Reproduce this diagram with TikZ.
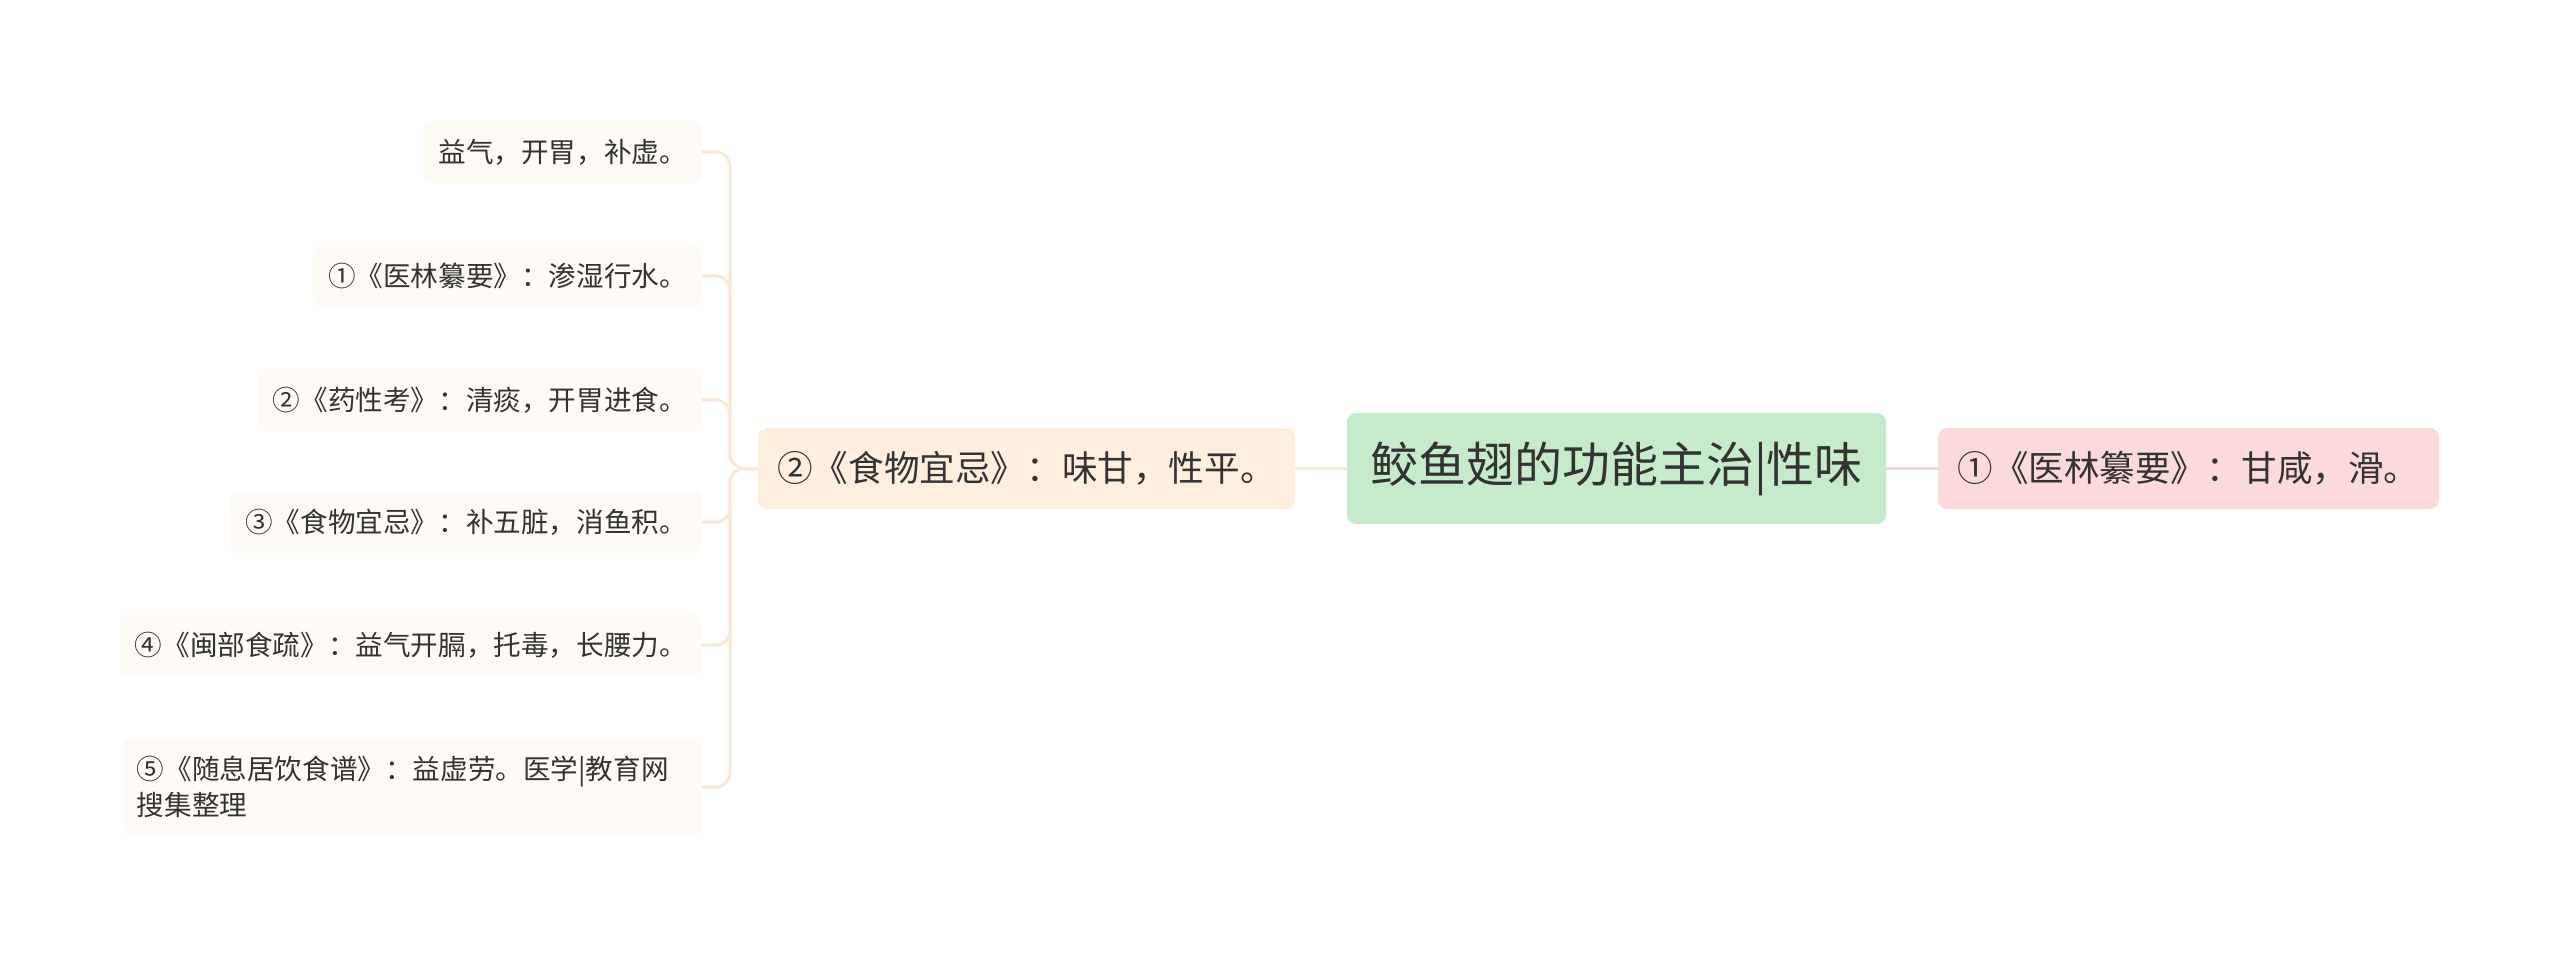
\documentclass[tikz,border=0pt]{standalone}
\usepackage{fontspec}
\setmainfont{Noto Sans CJK SC}
\usetikzlibrary{calc}
\definecolor{txt}{HTML}{333333}
\definecolor{cgreen}{HTML}{C5EBCB}
\definecolor{cpink}{HTML}{FCDADC}
\definecolor{cpeach}{HTML}{FDEEDD}
\definecolor{cleaf}{HTML}{FEFAF5}
\definecolor{lpeach}{HTML}{FCE8D4}
\definecolor{lpink}{HTML}{F9D4D7}
\tikzset{
  box/.style={rounded corners=9pt, text=txt, inner sep=0pt, align=center},
  centerbox/.style={box, fill=cgreen, minimum width=539pt, minimum height=111pt, font=\fontsize{48}{58}\selectfont},
  rightbox/.style={box, fill=cpink, minimum width=501pt, minimum height=81pt, font=\fontsize{35.5}{44}\selectfont},
  lonebox/.style={box, fill=cpeach, minimum width=537pt, minimum height=81pt, font=\fontsize{35.6}{44}\selectfont},
  leafbox/.style={box, fill=cleaf, anchor=east, inner xsep=15pt, minimum height=62pt, align=left, font=\fontsize{27.6}{36}\selectfont},
  lconn/.style={draw=lpeach, line width=3pt, rounded corners=14pt},
  rconn/.style={draw=lpink, line width=3pt},
}
\begin{document}
\begin{tikzpicture}[x=1pt,y=-1pt]
\useasboundingbox[fill=white] (0,0) rectangle (2560,957);
\node[centerbox] (c) at (1616.5,468.5) {鲛鱼翅的功能主治|性味};
\node[rightbox] (r) at (2188.5,468.5) {①《医林纂要》：甘咸，滑。};
\node[lonebox] (l) at (1026.5,468.5) {②《食物宜忌》：味甘，性平。};
\node[leafbox] (a1) at (702,152) {益气，开胃，补虚。};
\node[leafbox] (a2) at (702,276) {①《医林纂要》：渗湿行水。};
\node[leafbox] (a3) at (702,400) {②《药性考》：清痰，开胃进食。};
\node[leafbox] (a4) at (702,522) {③《食物宜忌》：补五脏，消鱼积。};
\node[leafbox] (a5) at (702,645) {④《闽部食疏》：益气开膈，托毒，长腰力。};
\node[leafbox, minimum height=98pt, text width=551pt, inner xsep=14pt] (a6) at (702,787) {⑤《随息居饮食谱》：益虚劳。医学|教育网\\搜集整理};
\coordinate (trunk) at (730,468.5);
\draw[rconn] (c.east) -- (r.west);
\draw[lconn] (c.west) -- (l.east);
\foreach \n in {a1,a2,a3,a4,a5,a6}{
  \draw[lconn] (l.west) -- (trunk) |- (\n.east);
}
\end{tikzpicture}
\end{document}
